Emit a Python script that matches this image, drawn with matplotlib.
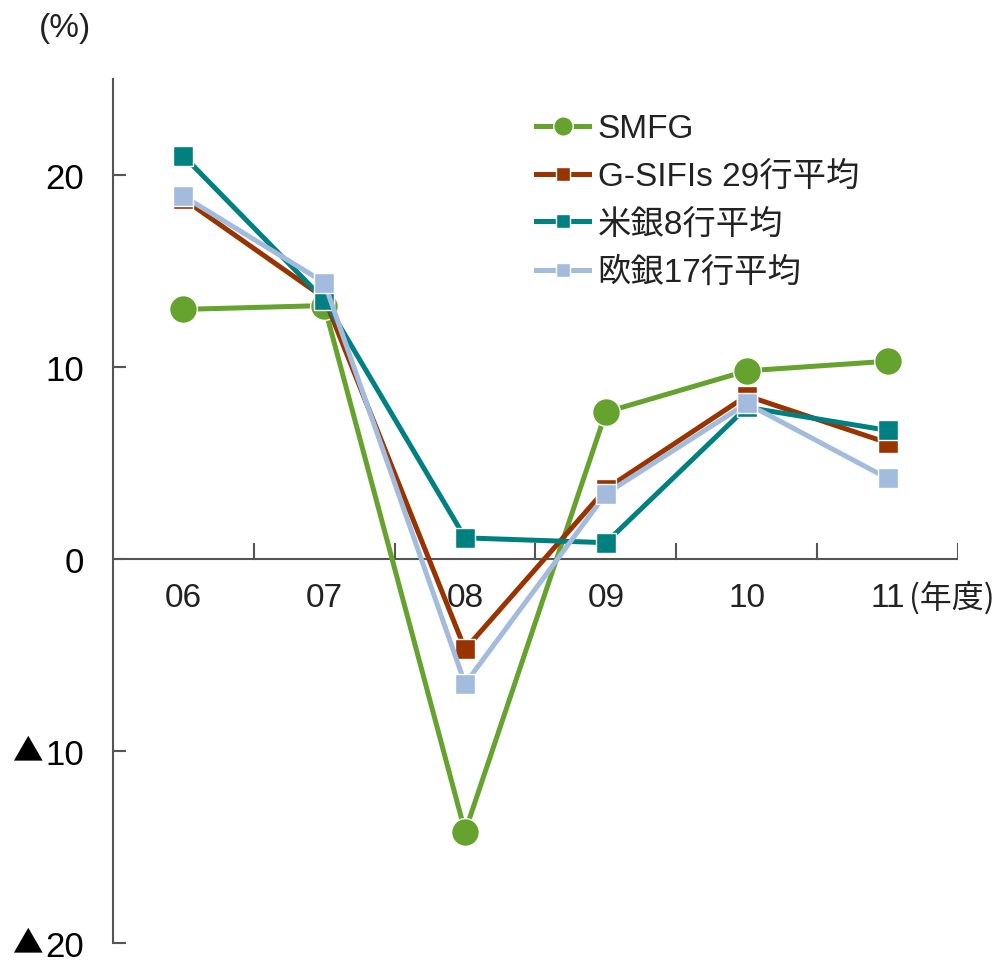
import matplotlib
matplotlib.use('Agg')
import matplotlib.pyplot as plt

plt.rcParams['font.family'] = ['Liberation Sans', 'Noto Sans CJK JP', 'DejaVu Sans']

# fiscal years
years = ['06', '07', '08', '09', '10', '11']
# ROE (%)
smfg = [13.0, 13.2, -14.2, 7.65, 9.8, 10.3]
gsifis = [18.75, 13.6, -4.7, 3.65, 8.5, 6.05]
us8 = [21.0, 13.5, 1.1, 0.85, 7.9, 6.7]
eu17 = [18.9, 14.4, -6.5, 3.4, 8.1, 4.2]

yticks = [-20, -10, 0, 10, 20]
ylabels = ['20', '10', '0', '10', '20']

fig = plt.figure(figsize=(10.01, 9.62), dpi=100)
ax = fig.add_axes([113/1001, 18/962, (958-113)/1001, (944-80)/962])

x = list(range(len(years)))
ax.plot(x, smfg, color='#66A22E', lw=3.6, marker='o', ms=20, mec='white', mew=1, label='SMFG', zorder=3)
ax.plot(x, gsifis, color='#993300', lw=3.6, marker='s', ms=14, mec='white', mew=1, label='G-SIFIs 29行平均', zorder=4)
ax.plot(x, us8, color='#008080', lw=3.6, marker='s', ms=14, mec='white', mew=1, label='米銀8行平均', zorder=5)
ax.plot(x, eu17, color='#A3BBDD', lw=3.6, marker='s', ms=14, mec='white', mew=1, label='欧銀17行平均', zorder=6)

ax.set_xlim(-0.5, 5.5)
ax.set_ylim(-20, 25)

for s in ['top', 'right', 'bottom']:
    ax.spines[s].set_visible(False)
ax.spines['left'].set_color('#555555')
ax.spines['left'].set_linewidth(1.5)
ax.axhline(0, color='#555555', lw=1.5, zorder=1)

ax.set_yticks(yticks)
ax.set_yticklabels(ylabels, fontsize=25)
ax.tick_params(axis='y', direction='in', length=9, width=1.5, color='#555555', pad=21)

# negative marks drawn in front of the negative labels
for v in [-10, -20]:
    ax.annotate('▲', xy=(0, v), xycoords=('axes fraction', 'data'),
                xytext=(-51, 0), textcoords='offset points', ha='right', va='center',
                fontsize=22, family=['Noto Sans CJK JP'], color='black')

# category boundary ticks on the zero line
ax.set_xticks([])
for b in [0.5, 1.5, 2.5, 3.5, 4.5, 5.5]:
    ax.plot([b, b], [0, 0.8], color='#555555', lw=1.5, zorder=1)
for i, lab in enumerate(years):
    ax.text(i, -2.0, lab, ha='center', va='center', fontsize=24, color='#222222')
ax.text(5.15, -2.0, '(年度)', ha='left', va='center', fontsize=23, color='#222222',
        family=['Noto Sans CJK JP'])

fig.text(65/1001, 1 - 28/962, '(%)', ha='center', va='center', fontsize=24, color='#222222')

leg = ax.legend(loc='upper left', bbox_to_anchor=(0.465, 0.995), frameon=False, fontsize=24,
                handlelength=1.6, handletextpad=0.25, labelspacing=0.5, markerscale=0.7)
for t in leg.get_texts():
    t.set_color('#222222')

fig.savefig('out.png', dpi=100)
